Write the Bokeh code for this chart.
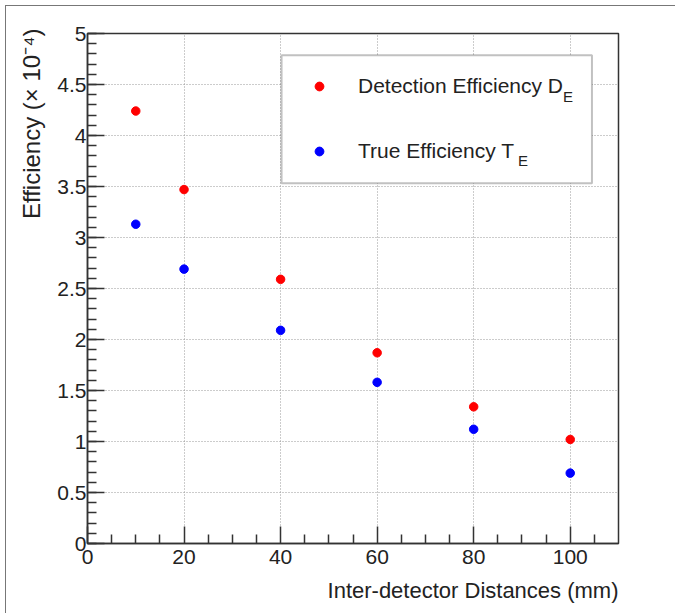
from bokeh.plotting import figure
from bokeh.models import (FixedTicker, Legend, LegendItem, Title, BoxAnnotation,
                          Label, Range1d, ColumnDataSource)
from bokeh.embed import file_html
from bokeh.resources import INLINE

# ---- data ----
distances = [10, 20, 40, 60, 80, 100]
detection_eff = [4.24, 3.47, 2.59, 1.87, 1.34, 1.02]
true_eff = [3.13, 2.69, 2.09, 1.58, 1.12, 0.69]

x_ticks = [0, 20, 40, 60, 80, 100]
x_tick_labels = ["0", "20", "40", "60", "80", "100"]
x_minor_ticks = [5, 10, 15, 25, 30, 35, 45, 50, 55, 65, 70, 75, 85, 90, 95, 105]
y_ticks = [0, 0.5, 1, 1.5, 2, 2.5, 3, 3.5, 4, 4.5, 5]
y_tick_labels = ["0", "0.5", "1", "1.5", "2", "2.5", "3", "3.5", "4", "4.5", "5"]
y_minor_ticks = [i / 10 for i in range(51)]

series_names = ["Detection Efficiency D", "True Efficiency T"]
series_subscripts = ["E", "E"]
series_colors = ["#ff0000", "#0000ff"]

FONT = "Liberation Sans"
AX = "#333333"

p = figure(width=675, height=613, x_range=Range1d(0, 110), y_range=Range1d(0, 5),
           output_backend="svg", toolbar_location=None,
           min_border_left=87, min_border_right=57, min_border_top=33, min_border_bottom=70)
p.styles = {"box-shadow": "inset 5px 5px 0 0 #ffffff, inset 6px 6px 0 0 #777777"}
p.background_fill_color = "white"
p.border_fill_alpha = 0
p.outline_line_color = AX
p.outline_line_width = 1.5

# axes
xa = p.xaxis[0]
xa.ticker = FixedTicker(ticks=x_ticks, minor_ticks=x_minor_ticks)
xa.major_label_overrides = dict(zip(x_ticks, x_tick_labels))
ya = p.yaxis[0]
ya.ticker = FixedTicker(ticks=y_ticks, minor_ticks=y_minor_ticks)
ya.major_label_overrides = dict(zip(y_ticks, y_tick_labels))
for ax in (xa, ya):
    ax.axis_line_color = AX
    ax.axis_line_width = 1.5
    ax.major_tick_line_color = AX
    ax.minor_tick_line_color = AX
    ax.major_tick_line_width = 1.5
    ax.minor_tick_line_width = 1.5
    ax.major_tick_out = 0
    ax.minor_tick_out = 0
    ax.major_tick_in = 17
    ax.minor_tick_in = 9
    ax.major_label_text_font = FONT
    ax.major_label_text_font_size = "21px"
    ax.major_label_text_color = "#222222"
xa.major_label_standoff = 6
ya.major_label_standoff = 1

for g in (p.xgrid[0], p.ygrid[0]):
    g.grid_line_color = "#999999"
    g.grid_line_dash = "1 2"
    g.grid_line_width = 1

src_d = ColumnDataSource(dict(x=distances, y=detection_eff))
src_t = ColumnDataSource(dict(x=distances, y=true_eff))
r1 = p.scatter("x", "y", source=src_d, size=8.5, color=series_colors[0])
r2 = p.scatter("x", "y", source=src_t, size=8.5, color=series_colors[1])

# legend box
box = BoxAnnotation(left=40.2, right=104.5, bottom=3.532, top=4.787,
                    fill_color="white", fill_alpha=1.0,
                    line_color=AX, line_width=2)
p.add_layout(box)

legend = Legend(items=[LegendItem(label=series_names[0], renderers=[r1]),
                       LegendItem(label=series_names[1], renderers=[r2])],
                location=(221, 380), padding=0, spacing=41, margin=0,
                glyph_width=22, glyph_height=22, label_height=22, label_standoff=28,
                border_line_alpha=0, background_fill_alpha=0,
                label_text_font=FONT, label_text_font_size="21px",
                label_text_color="#222222")
p.add_layout(legend)

for (xs, ys), sub in zip([(98.5, 4.385), (89.2, 3.758)], series_subscripts):
    p.add_layout(Label(x=xs, y=ys, text=sub, text_font=FONT, text_font_size="15px",
                       text_baseline="middle", text_color="#222222"))

ytitle = Title(text="Efficiency (\u00d7 10\u207b\u2074)", align="right",
               text_font=FONT, text_font_size="24px", text_font_style="normal",
               text_color="#222222", standoff=20, offset=-5)
p.add_layout(ytitle, "left")
xtitle = Title(text="Inter-detector Distances (mm)", align="right",
               text_font=FONT, text_font_size="22px", text_font_style="normal",
               text_color="#222222", standoff=18)
p.add_layout(xtitle, "below")

open("out.html", "w").write(file_html(p, INLINE))
